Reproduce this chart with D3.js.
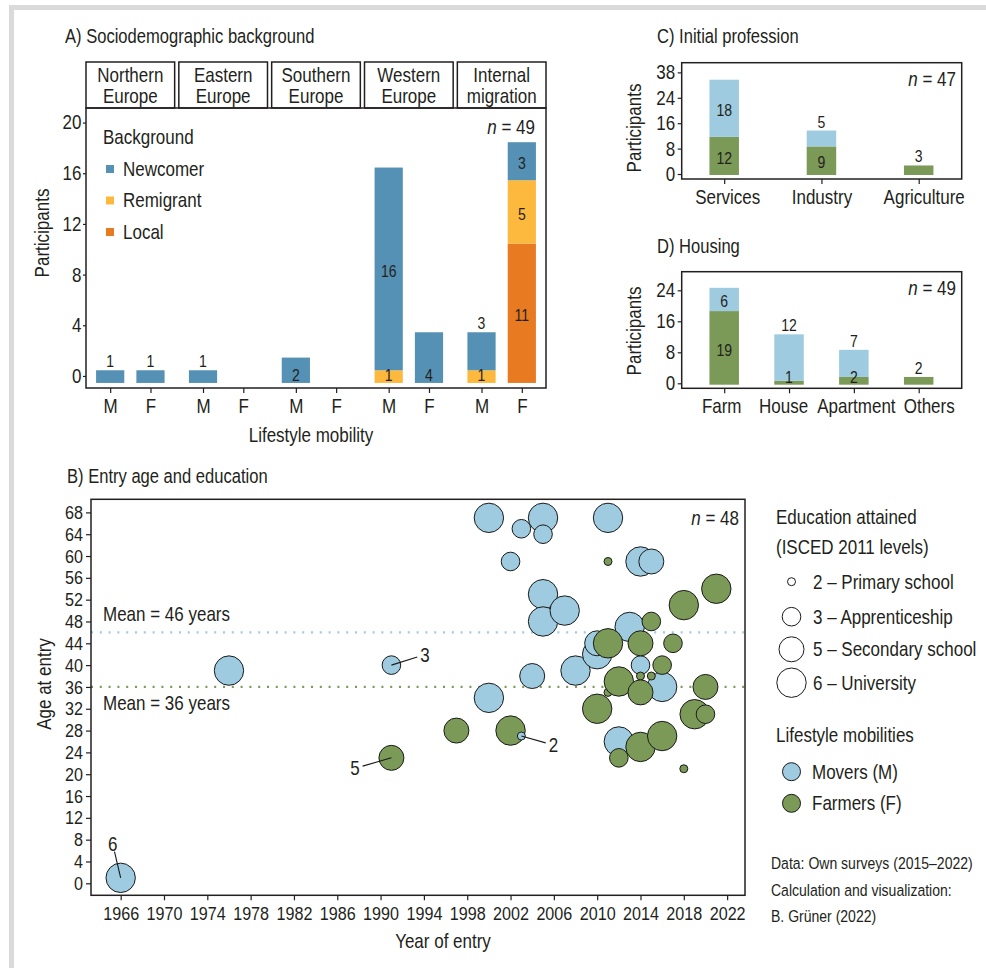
<!DOCTYPE html>
<html>
<head>
<meta charset="utf-8">
<script src="https://cdn.jsdelivr.net/npm/d3@7"></script>
<style>
  body { margin: 0; background: #fff; }
  svg text { font-family: "Liberation Sans", Arial, sans-serif; fill: #231f20; }
</style>
</head>
<body>
<div id="chart"></div>
<script>
// ---- Panel A: sociodemographic background ----
const regions = ["Northern Europe", "Eastern Europe", "Southern Europe", "Western Europe", "Internal migration"];
const regionLines = [["Northern", "Europe"], ["Eastern", "Europe"], ["Southern", "Europe"], ["Western", "Europe"], ["Internal", "migration"]];
const mobilities = ["M", "F"];
const backgrounds = ["Local", "Remigrant", "Newcomer"];   // stacked bottom-up
// one value per region x mobility (N-M, N-F, E-M, E-F, S-M, S-F, W-M, W-F, I-M, I-F)
const localCounts     = [0, 0, 0, 0, 0, 0, 0, 0, 0, 11];
const remigrantCounts = [0, 0, 0, 0, 0, 0, 1, 0, 1, 5];
const newcomerCounts  = [1, 1, 1, 0, 2, 0, 16, 4, 3, 3];
const ticksA = [0, 4, 8, 12, 16, 20];

// ---- Panel C: initial profession ----
const professions = ["Services", "Industry", "Agriculture"];
const professionFarmers = [12, 9, 3];
const professionMovers = [18, 5, 0];
const ticksC = [0, 8, 16, 24, 32];
const tickLabelsC = ["0", "8", "16", "24", "38"];

// ---- Panel D: housing ----
const housing = ["Farm", "House", "Apartment", "Others"];
const housingFarmers = [19, 1, 2, 2];
const housingMovers = [6, 12, 7, 0];
const ticksD = [0, 8, 16, 24];

// ---- Panel B: entry age and education ----
const entryYear = [1966, 1976, 1991, 2000, 2000, 2002, 2003, 2004, 2005, 2005, 2005, 2005, 2007, 2008, 2010, 2010, 2011, 2012, 2013, 2014, 2014, 2015, 2016,
                   1991, 1997, 2002, 2010, 2011, 2011, 2011, 2012, 2012, 2014, 2014, 2014, 2014, 2015, 2015, 2016, 2016, 2017, 2018, 2018, 2019, 2020, 2020, 2021,
                   2003];
const entryAge  = [1, 39, 40, 67, 34, 59, 65, 38, 67, 64, 53, 48, 50, 39, 42, 44, 67, 26, 47, 59, 40, 59, 36,
                   23, 28, 28, 32, 59, 44, 35, 37, 23, 44, 38, 35, 25, 48, 38, 40, 27, 44, 51, 21, 31, 36, 31, 54,
                   27];
const educationLevel = [6, 6, 3, 6, 6, 3, 3, 5, 6, 3, 6, 6, 6, 6, 6, 5, 6, 6, 6, 6, 3, 5, 6,
                        5, 5, 6, 6, 2, 6, 2, 6, 3, 5, 2, 5, 6, 3, 2, 3, 6, 3, 6, 2, 6, 5, 3, 6,
                        2];
const mobility = ["M", "M", "M", "M", "M", "M", "M", "M", "M", "M", "M", "M", "M", "M", "M", "M", "M", "M", "M", "M", "M", "M", "M",
                  "F", "F", "F", "F", "F", "F", "F", "F", "F", "F", "F", "F", "F", "F", "F", "F", "F", "F", "F", "F", "F", "F", "F", "F",
                  "M"];
const educationLevels = [2, 3, 5, 6];
const educationNames = ["2 \u2013 Primary school", "3 \u2013 Apprenticeship", "5 \u2013 Secondary school", "6 \u2013 University"];
const mobilityNames = ["Movers (M)", "Farmers (F)"];
const annotYear = [1966, 1991, 1991, 2003];
const annotAge = [1, 40, 23, 27];
const annotText = ["6", "3", "5", "2"];
const ticksBx = d3.range(1966, 2023, 4);
const ticksBy = d3.range(0, 69, 4);

// ---- colours ----
const bgColor = d3.scaleOrdinal().domain(backgrounds).range(["#e87b22", "#fdb93e", "#5591b4"]);
const mobColor = d3.scaleOrdinal().domain(["M", "F"]).range(["#9ecbe0", "#7c9a57"]);
const ink = "#231f20";
const squeeze = 0.85;   // condensed look

const W = 986, H = 968;
const svg = d3.select("#chart").append("svg").attr("width", W).attr("height", H);

// grey frame (top and left edges)
svg.append("rect").attr("x", 9).attr("y", 5).attr("width", W).attr("height", 5).attr("fill", "#dadada");
svg.append("rect").attr("x", 9).attr("y", 5).attr("width", 5).attr("height", H).attr("fill", "#dadada");

function label(x, y, t, size, anchor) {
  return svg.append("text").attr("x", x).attr("y", y).attr("text-anchor", anchor || "start")
    .attr("dominant-baseline", "central").style("font-size", size + "px").text(t);
}
function yTitle(x, y, t) {
  svg.append("text").attr("transform", `translate(${x},${y}) rotate(-90)`)
    .attr("text-anchor", "middle").attr("dominant-baseline", "central")
    .style("font-size", "20px").text(t);
}
function nLabel(x, y, n) {
  const t = svg.append("text").attr("x", x).attr("y", y).attr("text-anchor", "end")
    .attr("dominant-baseline", "central").style("font-size", "20px");
  t.append("tspan").style("font-style", "italic").text("n");
  t.append("tspan").text(" = " + n);
}
function styleAxis(g, size) {
  g.select(".domain").remove();
  g.selectAll(".tick line").attr("stroke", ink).attr("stroke-width", 1.2);
  g.selectAll(".tick text").style("font-size", size + "px").attr("fill", ink);
}
function box(x0, y0, x1, y1) {
  svg.append("rect").attr("x", x0).attr("y", y0).attr("width", x1 - x0).attr("height", y1 - y0)
    .attr("fill", "none").attr("stroke", ink).attr("stroke-width", 1.5);
}

// place count labels on a stacked bar: segs bottom-up with pixel bottom/top
function segmentLabels(segs, g) {
  const h = s => s.bottom - s.top;
  const mid = s => (s.bottom + s.top) / 2 + 7.7;
  const above = s => s.top - 3;
  const base = s => s.bottom - 2;
  const n = segs.length;
  segs.forEach((s, i) => {
    let y;
    if (n === 1) y = h(s) < 15 ? above(s) : h(s) < 55 ? base(s) : mid(s);
    else if (i === 0) y = h(s) < 15 ? base(s) : mid(s);
    else if (i < n - 1) y = mid(s);
    else y = ((h(segs[0]) < 15 && h(s) < 55) || h(s) < 20) ? above(s) : mid(s);
    g.append("text").attr("x", s.x).attr("y", y).attr("text-anchor", "middle")
      .style("font-size", "16.5px").text(s.v);
  });
}

// =================== Panel A ===================
const A = {left: 86, right: 546, top: 108, bottom: 388, stripTop: 62};
const xRegion = d3.scaleBand().domain(regions).range([A.left, A.right]).paddingInner(0.045).paddingOuter(0);
const xMob = d3.scalePoint().domain(mobilities).range([0, xRegion.bandwidth()]).padding(0.6);
const yA = d3.scaleLinear().domain([-0.95, 21.15]).range([A.bottom, A.top]);
const baseA = -0.55;
const barWA = xMob.step() * 0.7;

label(65, 37, "A) Sociodemographic background", 19.5);

regions.forEach((r, ri) => {
  const x0 = xRegion(r);
  svg.append("rect").attr("x", x0).attr("y", A.stripTop).attr("width", xRegion.bandwidth())
    .attr("height", A.top - A.stripTop).attr("fill", "#fff").attr("stroke", ink).attr("stroke-width", 1.5);
  regionLines[ri].forEach((line, li) => {
    label(x0 + xRegion.bandwidth() / 2, 75 + li * 21, line, 20, "middle");
  });
});

const gA = svg.append("g");
const countsByBg = {Local: localCounts, Remigrant: remigrantCounts, Newcomer: newcomerCounts};
regions.forEach((r, ri) => {
  mobilities.forEach((m, mi) => {
    const k = ri * 2 + mi;
    const cx = xRegion(r) + xMob(m);
    let acc = baseA;
    const segs = [];
    backgrounds.forEach(b => {
      const v = countsByBg[b][k];
      if (!v) return;
      gA.append("rect").attr("x", cx - barWA / 2).attr("y", yA(acc + v))
        .attr("width", barWA).attr("height", yA(acc) - yA(acc + v)).attr("fill", bgColor(b));
      segs.push({v: v, x: cx, bottom: yA(acc), top: yA(acc + v)});
      acc += v;
    });
    segmentLabels(segs, gA);
  });
});
box(A.left, A.top, A.right, A.bottom);

const axAy = svg.append("g").attr("transform", `translate(${A.left},0)`)
  .call(d3.axisLeft(yA).tickValues(ticksA).tickSize(3).tickPadding(1.5));
styleAxis(axAy, 20);
const xTicksA = [];
regions.forEach(r => mobilities.forEach(m => xTicksA.push({r: r, m: m})));
const axAx = svg.append("g").attr("transform", `translate(0,${A.bottom})`)
  .call(d3.axisBottom(d3.scaleLinear().domain([0, 1]).range([0, 1]))
    .tickValues(xTicksA.map(d => xRegion(d.r) + xMob(d.m)))
    .tickFormat((d, i) => xTicksA[i].m).tickSize(5).tickPadding(6));
styleAxis(axAx, 20);
yTitle(42, 233, "Participants");
label(311, 435, "Lifestyle mobility", 20, "middle");
nLabel(535, 126, d3.sum(localCounts) + d3.sum(remigrantCounts) + d3.sum(newcomerCounts));

// legend A
label(103, 137, "Background", 20);
backgrounds.slice().reverse().forEach((b, i) => {
  const cy = 169 + i * 31.5;
  svg.append("rect").attr("x", 106).attr("y", cy - 4).attr("width", 8).attr("height", 8).attr("fill", bgColor(b));
  label(123, cy, b, 20);
});

// =================== Panels C and D ===================
function stackPanel(cfg) {
  const x = d3.scalePoint().domain(cfg.cats).range([cfg.left + 42.5, cfg.right - 43]);
  const y = d3.scaleLinear().domain(cfg.domain).range([cfg.bottom, cfg.top]);
  const bw = 29.5;
  const g = svg.append("g");
  cfg.cats.forEach((c, i) => {
    const segs = [];
    let acc = cfg.base;
    [["F", cfg.farmers[i]], ["M", cfg.movers[i]]].forEach(([m, v]) => {
      if (!v) return;
      g.append("rect").attr("x", x(c) - bw / 2).attr("y", y(acc + v)).attr("width", bw)
        .attr("height", y(acc) - y(acc + v)).attr("fill", mobColor(m));
      segs.push({v: v, x: x(c), bottom: y(acc), top: y(acc + v)});
      acc += v;
    });
    segmentLabels(segs, g);
  });
  box(cfg.left, cfg.top, cfg.right, cfg.bottom);
  const ay = svg.append("g").attr("transform", `translate(${cfg.left},0)`)
    .call(d3.axisLeft(y).tickValues(cfg.ticks).tickFormat((d, i) => cfg.tickLabels[i]).tickSize(4).tickPadding(2.5));
  styleAxis(ay, 20);
  const ax = svg.append("g").attr("transform", `translate(0,${cfg.bottom})`)
    .call(d3.axisBottom(x).tickSize(5).tickPadding(6));
  styleAxis(ax, 20);
  ax.selectAll(".tick text").attr("dx", (d, i) => cfg.nudge[i]);
  yTitle(634, cfg.yTitleY, "Participants");
  nLabel(956, cfg.top + 16, d3.sum(cfg.farmers) + d3.sum(cfg.movers));
}

label(657, 37, "C) Initial profession", 19.5);
stackPanel({cats: professions, farmers: professionFarmers, movers: professionMovers,
  left: 681.7, right: 961.7, top: 62.7, bottom: 179, domain: [-1.57, 35.05], base: -0.31,
  ticks: ticksC, tickLabels: tickLabelsC, yTitleY: 128, nudge: [3, 0, 5]});

label(657, 247, "D) Housing", 19.5);
stackPanel({cats: housing, farmers: housingFarmers, movers: housingMovers,
  left: 681.7, right: 961.7, top: 271.7, bottom: 388.3, domain: [-1.29, 28.8], base: -0.36,
  ticks: ticksD, tickLabels: ticksD.map(String), yTitleY: 331, nudge: [-3, -6, 2, 10]});

// =================== Panel B ===================
const B = {left: 91, right: 745, top: 499.3, bottom: 895.3};
const xB = d3.scaleLinear().domain([1963.26, 2023.65]).range([B.left, B.right]);
const yB = d3.scaleLinear().domain([-2.2, 70.4]).range([B.bottom, B.top]);
const rB = d3.scaleOrdinal().domain(educationLevels).range([4, 9.3, 12.5, 14.7]);

label(67, 477, "B) Entry age and education", 19.5);

const points = entryYear.map((yr, i) => ({year: yr, age: entryAge[i], edu: educationLevel[i], mob: mobility[i]}));
const meanM = Math.round(d3.mean(points.filter(p => p.mob === "M"), p => p.age));
const meanF = Math.round(d3.mean(points.filter(p => p.mob === "F"), p => p.age));

[["M", meanM], ["F", meanF]].forEach(([m, v]) => {
  svg.append("line").attr("x1", B.left).attr("x2", B.right).attr("y1", yB(v)).attr("y2", yB(v))
    .attr("stroke", mobColor(m)).attr("stroke-width", 2.2).attr("stroke-dasharray", "2,6.8");
});
label(103, yB(meanM) - 18, `Mean = ${meanM} years`, 20);
label(103, yB(meanF) + 16, `Mean = ${meanF} years`, 20);

svg.append("g").selectAll("circle").data(points).join("circle")
  .attr("cx", d => xB(d.year)).attr("cy", d => yB(d.age)).attr("r", d => rB(d.edu))
  .attr("fill", d => mobColor(d.mob)).attr("stroke", "#1a1a1a").attr("stroke-width", 1);

// leader labels
const annotOffset = [[-8, -34], [33.5, -10.5], [-36.5, 10.5], [32, 9]];
annotText.forEach((t, i) => {
  const px = xB(annotYear[i]), py = yB(annotAge[i]);
  const [dx, dy] = annotOffset[i];
  const len = Math.hypot(dx, dy), cut = (len - 8) / len;
  svg.append("line").attr("x1", px).attr("y1", py).attr("x2", px + dx * cut).attr("y2", py + dy * cut)
    .attr("stroke", "#1a1a1a").attr("stroke-width", 1.1);
  label(px + dx, py + dy, t, 20, "middle");
});

box(B.left, B.top, B.right, B.bottom);
const axBy = svg.append("g").attr("transform", `translate(${B.left},0)`)
  .call(d3.axisLeft(yB).tickValues(ticksBy).tickSize(5).tickPadding(3));
styleAxis(axBy, 19);
const axBx = svg.append("g").attr("transform", `translate(0,${B.bottom})`)
  .call(d3.axisBottom(xB).tickValues(ticksBx).tickFormat(d3.format("d")).tickSize(5).tickPadding(6));
styleAxis(axBx, 19);
yTitle(44, 684, "Age at entry");
label(443, 941, "Year of entry", 20, "middle");
nLabel(739, 517, points.length);

// legend B
label(776, 517, "Education attained", 20);
label(776, 547, "(ISCED 2011 levels)", 20);
educationLevels.forEach((lv, i) => {
  const cy = [581.7, 616.7, 649.3, 682.7][i];
  svg.append("circle").attr("cx", 791.5).attr("cy", cy).attr("r", rB(lv))
    .attr("fill", "#fff").attr("stroke", "#1a1a1a").attr("stroke-width", 1);
  label(813, cy, educationNames[i], 20);
});
label(776, 735, "Lifestyle mobilities", 20);
["M", "F"].forEach((m, i) => {
  const cy = 771.7 + i * 31.6;
  svg.append("circle").attr("cx", 791.5).attr("cy", cy).attr("r", 9)
    .attr("fill", mobColor(m)).attr("stroke", "#1a1a1a").attr("stroke-width", 1);
  label(812, cy, mobilityNames[i], 20);
});
["Data: Own surveys (2015\u20132022)", "Calculation and visualization:", "B. Gr\u00fcner (2022)"].forEach((t, i) => {
  label(771, 863 + i * 26.7, t, 16.5);
});

// squeeze every text horizontally (condensed look) with a real transform so boxes stay true
svg.selectAll("text").each(function() {
  const t = d3.select(this);
  const x = +t.attr("x") || 0, dx = +t.attr("dx") || 0;
  t.attr("x", x / squeeze);
  if (dx) t.attr("dx", dx / squeeze);
  t.attr("transform", (t.attr("transform") || "") + ` scale(${squeeze},1)`);
});
</script>
</body>
</html>
